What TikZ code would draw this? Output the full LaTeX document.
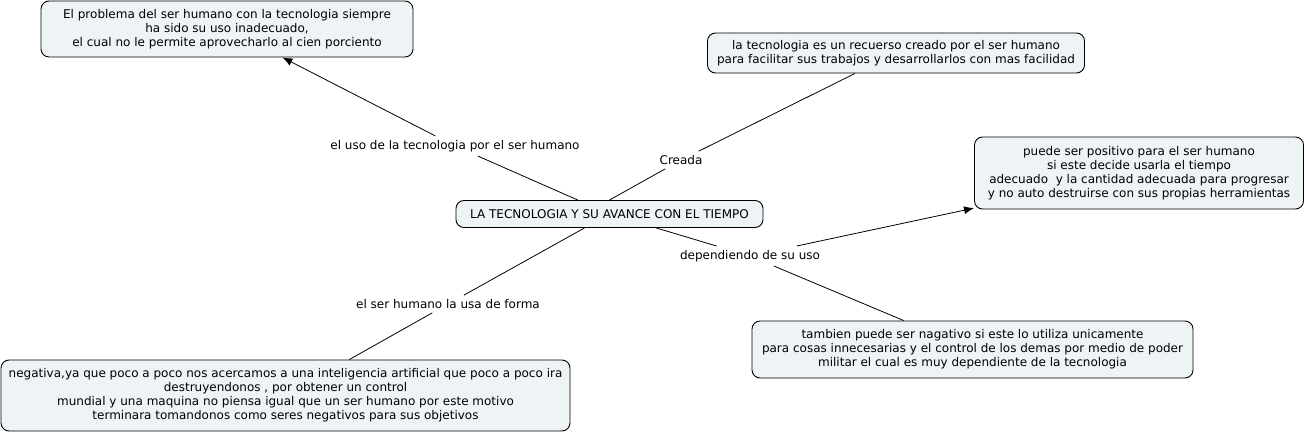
\documentclass[tikz,border=0pt]{standalone}
\usepackage{fontspec}
\setmainfont{DejaVu Sans}
\usetikzlibrary{arrows.meta}
\definecolor{boxfill}{HTML}{EEF3F5}
\tikzset{
  concept/.style={draw=black, line width=0.9pt, fill=boxfill, rounded corners=8pt, align=center,
    font=\fontsize{12}{14}\selectfont, inner sep=2pt},
  linklabel/.style={font=\fontsize{12}{14}\selectfont, inner sep=4pt},
  conn/.style={draw=black, line width=0.8pt},
  arr/.style={conn, -{Latex[length=10pt,width=8pt]}}
}
\begin{document}
\begin{tikzpicture}[x=1pt,y=1pt]
\useasboundingbox (0,0) rectangle (1306,434);
% concepts
\node[concept, minimum width=372pt, minimum height=56pt] (prob) at (227,405)
  {El problema del ser humano con la tecnologia siempre\\ha sido su uso inadecuado,\\el cual no le permite aprovecharlo al cien porciento};
\node[concept, minimum width=377pt, minimum height=40pt] (recurso) at (896,381)
  {la tecnologia es un recuerso creado por el ser humano\\para facilitar sus trabajos y desarrollarlos con mas facilidad};
\node[concept, minimum width=329pt, minimum height=72pt] (positivo) at (1139,261)
  {puede ser positivo para el ser humano\\si este decide usarla el tiempo\\adecuado\ \ y la cantidad adecuada para progresar\\y no auto destruirse con sus propias herramientas};
\node[concept, minimum width=307pt, minimum height=27pt] (main) at (609.5,220)
  {LA TECNOLOGIA Y SU AVANCE CON EL TIEMPO};
\node[concept, minimum width=569pt, minimum height=71pt] (negativa) at (285.5,38.5)
  {negativa,ya que poco a poco nos acercamos a una inteligencia artificial que poco a poco ira\\destruyendonos , por obtener un control\\mundial y una maquina no piensa igual que un ser humano por este motivo\\terminara tomandonos como seres negativos para sus objetivos};
\node[concept, minimum width=441pt, minimum height=57pt] (nagativo) at (972.5,84.5)
  {tambien puede ser nagativo si este lo utiliza unicamente\\para cosas innecesarias y el control de los demas por medio de poder\\militar el cual es muy dependiente de la tecnologia};
% link labels
\node[linklabel] (luso) at (455,288) {el uso de la tecnologia por el ser humano};
\node[linklabel] (lcreada) at (681,274) {Creada};
\node[linklabel] (ldep) at (750,178) {dependiendo de su uso};
\node[linklabel] (lforma) at (448,130) {el ser humano la usa de forma};
% connectors
\draw[conn] (main) -- (luso);
\draw[arr] (luso) -- (prob);
\draw[conn] (main.north) -- (lcreada);
\draw[conn] (lcreada) -- (recurso);
\draw[conn] (main) -- (ldep);
\draw[arr] (ldep) -- (positivo);
\draw[conn] (ldep) -- (nagativo);
\draw[conn] (main) -- (lforma);
\draw[conn] (lforma) -- (negativa);
\end{tikzpicture}
\end{document}
